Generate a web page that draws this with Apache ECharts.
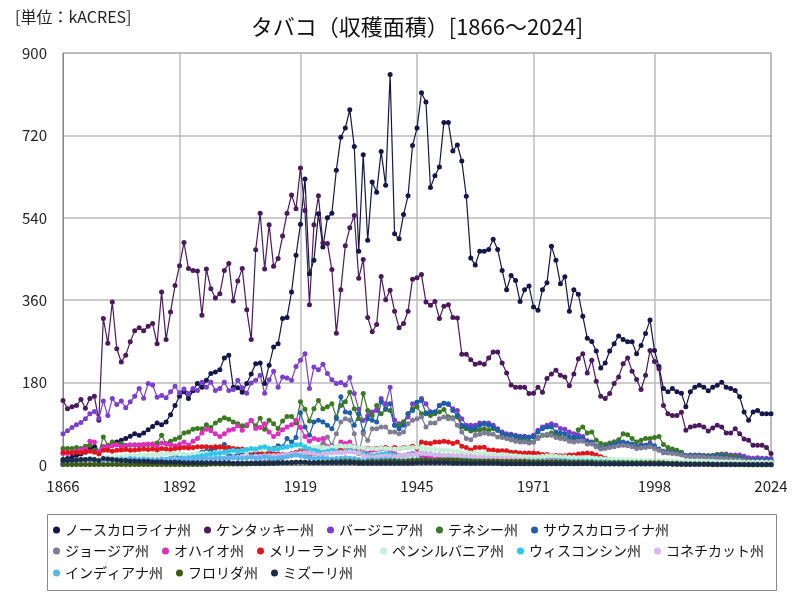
<!DOCTYPE html>
<html><head><meta charset="utf-8">
<script src="https://cdn.jsdelivr.net/npm/echarts@6/dist/echarts.min.js"></script>
<style>html,body{margin:0;padding:0;background:#fff}#c{width:800px;height:600px}</style>
</head><body><div id="c"></div>
<script>
const startYear = 1866, endYear = 2024;
const years = [];
for (let y = startYear; y <= endYear; y++) years.push(String(y));
const xTickLabels = ['1866','1892','1919','1945','1971','1998','2024'];
const yMin = 0, yMax = 900, yStep = 180;
const titleText = 'タバコ（収穫面積）[1866～2024]';
const unitText = '[単位：kACRES]';

const northCarolina = [12,14,17,21,24,28,36,40,28,40, 33,44,50,54,58,63,68,65,70,77, 84,92,88,94,110,130,150,160,145,162, 178,170,185,200,203,208,234,240,170,169, 159,178,199,221,223,178,218,258,265,320, 322,378,458,526,625,418,447,549,476,540, 550,644,716,736,776,696,467,678,491,618, 596,685,611,853,505,494,547,588,698,736, 813,793,606,632,651,748,748,686,699,664, 587,452,437,467,467,471,493,471,425,383, 414,403,357,383,391,345,338,383,398,478, 447,396,411,336,383,373,325,277,270,249, 212,223,249,265,282,274,269,269,243,261, 287,317,250,215,167,160,167,160,157,127, 160,170,174,170,162,170,174,181,170,167, 163,149,116,98,116,119,112,112,112];
const kentucky = [141,123,127,130,143,124,145,150,98,320, 266,356,254,225,240,269,293,300,293,303, 309,265,378,274,334,392,435,486,429,425, 424,327,428,385,365,374,425,440,358,402, 429,339,274,470,550,428,525,434,451,500, 550,590,560,649,556,350,525,588,485,484, 427,288,383,479,518,545,408,449,322,291, 307,412,361,382,336,300,309,336,406,409, 416,356,349,357,320,347,350,322,321,242, 242,230,220,223,220,234,247,247,223,201, 175,170,170,170,156,157,170,159,189,199, 207,196,192,173,199,232,243,201,229,183, 150,145,156,178,192,221,234,205,187,165, 196,250,226,210,130,112,108,108,115,76, 83,85,87,83,74,81,87,83,70,70, 79,68,57,54,43,43,43,38,25];
const virginia = [68,75,82,88,93,101,112,117,102,140, 108,145,132,140,125,138,150,167,146,178, 175,148,152,147,160,172,158,166,156,167, 163,181,170,181,163,167,181,163,165,185, 169,157,179,185,196,157,186,205,170,192, 190,185,215,229,243,167,214,208,220,200, 186,178,180,175,191,156,122,97,108,116, 119,145,134,170,98,90,94,105,134,137, 145,134,116,116,130,135,132,123,119,101, 87,87,87,92,90,92,87,79,72,68, 67,65,63,63,61,65,76,83,87,90, 87,80,78,72,68,66,62,53,48,40, 36,40,46,50,48,47,45,44,40,44, 43,48,40,33,27,30,29,28,26,21, 22,22,22,21,20,21,23,24,24,22, 22,22,19,16,15,16,15,15,14];
const tennessee = [36,36,36,38,36,41,43,32,28,61, 43,50,45,47,43,43,44,43,44,45, 46,48,65,47,52,56,60,70,72,78, 80,79,88,82,92,98,103,100,94,90, 86,86,97,86,102,78,98,90,80,96, 106,106,92,138,122,96,123,141,123,127, 134,105,130,138,159,123,101,156,119,108, 130,112,121,119,87,87,94,112,123,127, 112,114,108,112,116,121,105,103,105,83, 79,74,76,77,79,76,79,76,65,60, 55,55,54,55,50,50,60,65,65,70, 67,61,58,54,55,77,83,70,72,54, 47,45,48,50,55,68,66,58,50,54, 58,58,60,62,45,38,35,32,28,21, 20,20,21,20,20,21,23,22,21,19, 18,16,12,11,10,10,10,10,9];
const southCarolina = [3,3,3,3,3,3,4,4,4,5, 5,5,5,5,6,6,6,7,7,8, 8,9,10,12,15,18,20,22,20,22, 23,28,30,33,36,40,45,22,20,22, 28,30,24,25,22,26,30,36,42,40, 58,50,60,114,83,65,94,98,94,87, 79,101,149,116,114,87,112,72,101,98, 94,138,123,134,87,79,87,112,119,137, 141,112,116,116,130,135,134,119,108,87, 83,79,81,87,92,87,83,76,70,65, 65,63,61,61,60,61,72,79,83,83, 72,70,68,62,60,60,58,50,50,42, 37,38,42,45,48,50,48,46,40,42, 43,45,42,35,30,28,27,26,24,20, 20,20,20,19,18,19,20,18,17,15, 14,13,11,10,10,11,11,11,10];
const georgia = [2,2,2,2,2,2,2,2,2,3, 3,3,3,2,2,2,2,3,3,3, 3,3,3,3,3,2,2,2,2,2, 2,2,3,3,3,3,3,3,3,4, 4,5,5,6,6,7,8,10,12,15, 20,22,28,35,30,18,25,39,47,61, 43,68,94,101,98,68,25,68,54,79, 79,83,83,72,72,68,72,90,98,101, 105,83,92,92,101,105,101,101,87,72, 58,55,65,67,70,68,67,61,60,58, 55,52,50,50,48,50,58,65,67,65, 60,58,56,52,50,52,52,46,46,40, 35,36,38,40,42,43,42,40,36,37, 38,40,36,32,28,26,25,24,22,19, 18,18,18,17,16,16,16,15,14,13, 12,11,10,9,8,8,8,7,7];
const ohio = [25,25,28,30,33,35,52,50,30,38, 40,42,44,40,42,44,43,44,45,46, 44,40,48,46,44,42,45,50,43,52, 58,70,78,75,68,62,68,76,78,86, 76,88,98,80,82,90,72,62,68,77, 83,88,98,82,62,52,58,55,58,40, 34,35,50,47,50,40,28,25,28,32, 33,36,36,32,25,21,21,23,25,25, 18,16,17,16,17,14,15,15,14,10, 11,11,10,10,11,11,12,12,10,10, 9,9,9,9,9,9,10,10,11,12, 12,11,11,10,10,11,11,10,10,9, 8,8,8,8,8,9,9,9,8,8, 8,9,9,8,7,6,5,5,4,4, 4,4,3,3,3,3,2.5,2.5,2,2, 2,2,2,1.5,1,1,1,1,1];
const maryland = [28,28,27,28,27,29,30,28,24,32, 33,30,32,33,34,32,33,34,35,34, 35,33,36,35,34,36,37,38,37,38, 40,40,40,39,40,39,38,38,36,35, 35,33,30,30,28,28,28,25,24,23, 23,25,27,28,28,26,25,28,28,28, 31,32,32,32,32,31,33,36,36,36, 36,37,38,36,38,36,38,38,41,36, 50,48,47,50,50,52,50,47,50,41, 38,33,38,38,39,33,33,31,31,31, 28,28,26,26,26,26,25,23,23,21, 21,20,20,22,22,24,25,26,25,22, 18,15,12,10,9,9,9,8,8,8, 7,7,6,6,5,3,2,1.5,1,1, 1,1,1,1,0.8,0.8,0.6,0.6,0.5,0.5, 0.5,0.4,0.4,0.4,0.3,0.3,0.3,0.3,0.3];
const pennsylvania = [8,9,10,11,12,13,15,14,12,16, 17,16,18,19,20,21,20,22,21,22, 23,22,24,23,24,25,24,22,21,23, 24,25,26,25,27,28,27,29,28,30, 31,30,32,33,34,33,35,34,36,37, 38,40,42,41,40,38,39,40,38,37, 39,40,42,41,42,40,38,37,35,36, 35,37,36,36,35,36,37,38,38,39, 38,36,35,34,33,32,33,31,30,28, 27,26,27,25,25,24,23,22,23,22, 21,20,19,18,18,17,18,19,20,20, 19,18,18,17,17,16,16,15,15,15, 14,13,13,12,12,11,11,11,10,10, 10,10,9,9,9,9,9,8,8,8, 8,8,8,8,8,8,7,7,7,7, 7,7,6,6,6,6,6,6,6];
const wisconsin = [1,1,2,2,2,3,3,3,3,4, 4,5,5,6,6,7,8,8,9,10, 10,11,12,12,13,14,14,15,16,17, 18,20,22,24,25,26,28,30,32,30, 32,34,36,35,38,40,36,34,35,38, 40,42,44,45,40,35,32,30,28,30, 32,30,28,30,32,30,28,25,22,20, 22,24,25,24,22,20,20,22,24,24, 26,25,24,22,22,20,20,19,18,18, 17,16,16,16,15,15,14,14,13,13, 12,12,11,11,11,10,10,10,10,10, 10,10,10,9,9,9,8,8,8,7, 7,7,6,6,6,6,5,5,5,5, 4,4,4,4,3,3,3,2.5,2.5,2.5, 2,2,2,2,1.5,1.5,1.5,1,1,1, 1,1,1,0.8,0.8,0.8,0.5,0.5,0.5];
const connecticut = [5,5,6,6,7,7,8,8,7,9, 9,10,9,10,10,11,11,12,11,12, 12,12,13,12,13,13,12,13,12,12, 12,13,14,14,15,15,16,16,17,17, 18,18,18,19,19,20,20,21,21,22, 23,24,25,26,27,26,25,22,24,25, 26,27,28,28,29,28,26,20,18,17, 18,19,20,19,18,20,21,22,22,24, 25,25,24,22,22,21,22,21,20,20, 19,19,18,17,17,16,16,15,15,15, 14,13,12,11,10,9,9,9,9,9, 8,8,8,7,7,7,6,6,6,5, 5,5,4,4,4,4,4,4,3,3, 3,3,3,3,3,3,2.5,2.5,2.5,2.5, 2.5,2,2,2,2,2,2,2,2,2, 2,2,2,2,2,2,2,2,2];
const indiana = [8,9,10,9,11,12,11,12,8,12, 12,13,12,13,12,14,13,12,13,12, 12,11,13,12,12,11,12,13,12,13, 13,14,15,14,15,16,14,15,16,14, 15,16,17,15,16,18,17,15,16,17, 18,20,22,20,18,15,14,15,16,14, 13,14,15,16,15,14,12,10,11,12, 11,12,13,12,11,10,10,11,12,12, 12,11,10,10,10,9,9,9,8,8, 8,7,7,7,7,7,7,7,7,7, 6,6,6,6,6,6,6,6,6,6, 6,6,6,5,5,5,5,5,5,5, 4,4,4,4,4,4,4,4,4,4, 4,4,4,4,3,3,3,3,2,2, 2,2,2,2,2,2,1.5,1.5,1.5,1.5, 1.5,1.5,1.5,1.5,1,1,1,1,1];
const florida = [1,1,1,1,1,1,1,1,1,1, 1,1,1,1,1,1,1,1,1,1, 1,1,1,1,1,1,1,1,1,1, 1,1,1,2,2,2,2,2,2,2, 2,2,3,3,3,3,4,4,4,5, 5,6,6,6,6,5,5,6,6,6, 7,7,8,8,8,7,7,6,7,8, 7,8,8,9,9,8,8,9,10,10, 11,11,10,10,11,11,11,11,11,10, 10,9,9,9,9,9,9,9,8,8, 8,8,8,8,7,7,7,7,7,7, 7,7,7,6,6,6,6,6,6,5, 5,5,5,5,5,5,5,5,5,5, 5,5,5,5,5,4,4,4,3,3, 2,2,2,2,2,1.5,1.5,1.5,1.5,1.5, 1,1,1,0.5,0.5,0.5,0.5,0.5,0.5];
const missouri = [10,10,11,11,12,12,13,12,10,14, 13,12,11,10,10,9,9,8,8,8, 7,7,7,6,6,6,6,5,5,5, 5,5,5,5,5,5,5,5,4,4, 4,4,4,4,4,4,4,4,5,5, 5,5,6,6,6,5,5,5,5,5, 5,5,5,5,5,5,4,4,4,4, 4,4,4,4,4,4,4,4,4,5, 5,5,5,5,5,5,5,4,4,4, 4,4,4,4,4,4,4,4,3,3, 3,3,3,3,3,3,3,3,3,3, 3,3,3,3,3,3,3,3,3,2, 2,2,2,2,2,2,2,2,2,2, 2,2,2,2,2,2,1.5,1.5,1.5,1.5, 1.5,1.5,1.5,1.5,1.5,1,1,1,1,1, 1,1,1,1,1,1,1,1,1];

const seriesNames = ['ノースカロライナ州','ケンタッキー州','バージニア州','テネシー州','サウスカロライナ州','ジョージア州','オハイオ州','メリーランド州','ペンシルバニア州','ウィスコンシン州','コネチカット州','インディアナ州','フロリダ州','ミズーリ州'];
const seriesValues = [northCarolina,kentucky,virginia,tennessee,southCarolina,georgia,ohio,maryland,pennsylvania,wisconsin,connecticut,indiana,florida,missouri];
const seriesColors = ['#15164a','#4a1a5c','#7a3fcc','#3b7a22','#1f5ea8','#7d7d96','#e02cbf','#e0161c','#c6f0d6','#2ec6ec','#d6b8e6','#5ab4ee','#3e5a16','#1b2c48'];

const FONT = "'Noto Sans CJK JP', 'Noto Sans', sans-serif";
const showTick = (idx) => xTickLabels.indexOf(years[idx]) >= 0;

const legendBase = {
  orient: 'horizontal', left: 53, padding: 0, icon: 'circle',
  itemWidth: 7, itemHeight: 7, itemGap: 13,
  textStyle: { fontFamily: FONT, fontSize: 14, color: '#111' }
};

const chart = echarts.init(document.getElementById('c'), null, { renderer: 'canvas' });
chart.setOption({
  animation: false,
  backgroundColor: '#fff',
  graphic: [
    { type: 'text', left: 15, top: 9, style: { text: unitText, font: '16px ' + FONT, fill: '#222' } },
    { type: 'text', x: 417, y: 27, style: { text: titleText, font: '22px ' + FONT, fill: '#111', textAlign: 'center', textVerticalAlign: 'middle' } },
    { type: 'rect', shape: { x: 47.5, y: 514.5, width: 729, height: 76 }, style: { fill: 'none', stroke: '#888', lineWidth: 1 }, z: -1 }
  ],
  legend: [
    Object.assign({}, legendBase, { top: 523, data: seriesNames.slice(0, 5) }),
    Object.assign({}, legendBase, { top: 544, data: seriesNames.slice(5, 11) }),
    Object.assign({}, legendBase, { top: 566, data: seriesNames.slice(11) })
  ],
  grid: { left: 63, right: 29, top: 53, bottom: 135, show: true, borderColor: '#888', borderWidth: 1 },
  xAxis: {
    type: 'category', data: years, boundaryGap: false,
    axisLine: { lineStyle: { color: '#888' } },
    axisTick: { show: false },
    axisLabel: { interval: showTick, fontFamily: FONT, fontSize: 15, color: '#222', margin: 14 },
    splitLine: { show: true, interval: showTick, lineStyle: { color: '#bbb', width: 1.5 } }
  },
  yAxis: {
    type: 'value', min: yMin, max: yMax, interval: yStep,
    axisLine: { show: true, lineStyle: { color: '#888' } },
    axisTick: { show: false },
    axisLabel: { fontFamily: FONT, fontSize: 15, color: '#222', margin: 16 },
    splitLine: { show: true, lineStyle: { color: '#bbb', width: 1.5 } }
  },
  series: seriesNames.map((n, i) => ({
    name: n, type: 'line', data: seriesValues[i],
    symbol: 'circle', symbolSize: 5, showSymbol: true, showAllSymbol: true,
    lineStyle: { width: 1.2, color: seriesColors[i] },
    itemStyle: { color: seriesColors[i] },
    emphasis: { disabled: true }
  }))
});
</script></body></html>
